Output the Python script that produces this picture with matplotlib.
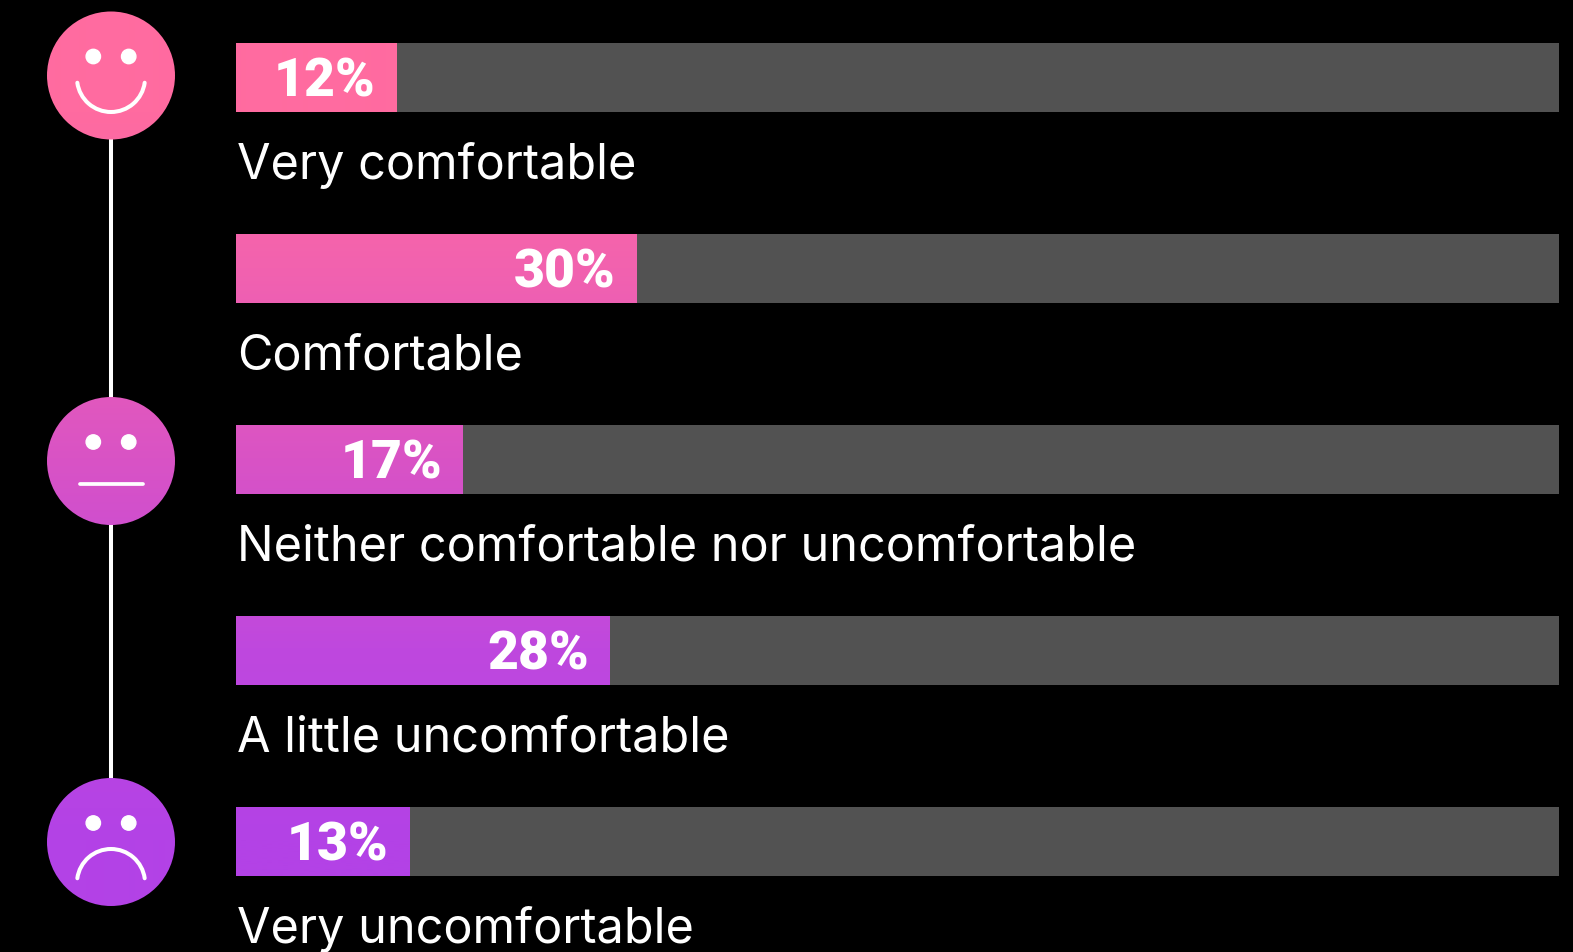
import matplotlib
matplotlib.use('Agg')
import matplotlib.pyplot as plt
import numpy as np
from matplotlib.colors import to_rgb
from matplotlib.patches import Circle, Arc

# survey answers, top to bottom
labels = ['Very comfortable', 'Comfortable', 'Neither comfortable nor uncomfortable',
          'A little uncomfortable', 'Very uncomfortable']
values = [12, 30, 17, 28, 13]
value_labels = ['12%', '30%', '17%', '28%', '13%']
track_end = 99.1

W, H = 1573, 952
PX_PER_PCT = 13.35
BAR_LEFT = 236
ROW0 = 77.5
ROW_STEP = 191
BAR_H = 69

# vertical colour ramp shared by the bars and the faces
grad_y = [43, 112, 268, 458, 648, 840, 876]
grad_c = ['#ff6ba0', '#ff6ba0', '#f262af', '#d953c5', '#bf48de', '#b342e6', '#b342e6']
rows = np.arange(H)
rgb = np.array([to_rgb(c) for c in grad_c])
ramp = np.stack([np.interp(rows, grad_y, rgb[:, i]) for i in range(3)], axis=1)[:, None, :]

fig = plt.figure(figsize=(W / 100, H / 100), dpi=100, facecolor='black')

# bars: x in percent, y in rows
ax = fig.add_axes([BAR_LEFT / W, 0, (W - BAR_LEFT) / W, 1])
ax.set_xlim(0, (W - BAR_LEFT) / PX_PER_PCT)
ax.set_ylim((H - ROW0) / ROW_STEP, -ROW0 / ROW_STEP)
ax.axis('off')

ypos = np.arange(len(values))
h = BAR_H / ROW_STEP
ax.barh(ypos, [track_end] * len(values), height=h, color='#525252', zorder=1)
bars = ax.barh(ypos, values, height=h, color='none', zorder=2)
xl, yl = ax.get_xlim(), ax.get_ylim()
for b in bars:
    im = ax.imshow(ramp, extent=[xl[0], xl[1], yl[0], yl[1]], aspect='auto', zorder=2,
                   interpolation='bilinear')
    im.set_clip_path(b)
ax.set_xlim(xl)
ax.set_ylim(yl)

for y, v, vl, lab in zip(ypos, values, value_labels, labels):
    ax.annotate(vl, (v, y), xytext=(-15, 1), textcoords='offset points', ha='right', va='center_baseline',
                color='white', fontsize=38.5, family='Roboto', fontweight='black', zorder=3)
    ax.annotate(lab, (0, y), xytext=(1, -60), textcoords='offset points', ha='left', va='center_baseline',
                color='white', fontsize=35, family='Inter', fontweight='normal', zorder=3)

# faces and connector drawn in pixel coordinates
fa = fig.add_axes([0, 0, 1, 1], facecolor='none')
fa.set_xlim(0, W)
fa.set_ylim(H, 0)
fa.axis('off')

cx = 111
face_y = [75.5, 461, 842]
fa.plot([cx, cx], [face_y[0], face_y[2]], color='white', lw=2.9, zorder=1, solid_capstyle='butt')
for fy in face_y:
    c = Circle((cx, fy), 64, transform=fa.transData, facecolor='none', edgecolor='none')
    fa.add_patch(c)
    im = fa.imshow(ramp, extent=[0, W, H, 0], aspect='auto', zorder=2, interpolation='bilinear')
    im.set_clip_path(c)
    fa.add_patch(Circle((cx - 17.7, fy - 19), 7.2, color='white', zorder=3))
    fa.add_patch(Circle((cx + 17.7, fy - 19), 7.2, color='white', zorder=3))
fa.set_xlim(0, W)
fa.set_ylim(H, 0)

# smile, flat mouth, frown
fa.add_patch(Arc((cx, 78), 68, 68, theta1=8, theta2=172, color='white', lw=2.9, zorder=3, capstyle='round'))
fa.plot([cx - 31.5, cx + 31.5], [484, 484], color='white', lw=2.7, zorder=3, solid_capstyle='round')
fa.add_patch(Arc((cx, 883), 68, 68, theta1=188, theta2=352, color='white', lw=2.9, zorder=3, capstyle='round'))

fig.savefig('out.png', dpi=100, facecolor='black')
